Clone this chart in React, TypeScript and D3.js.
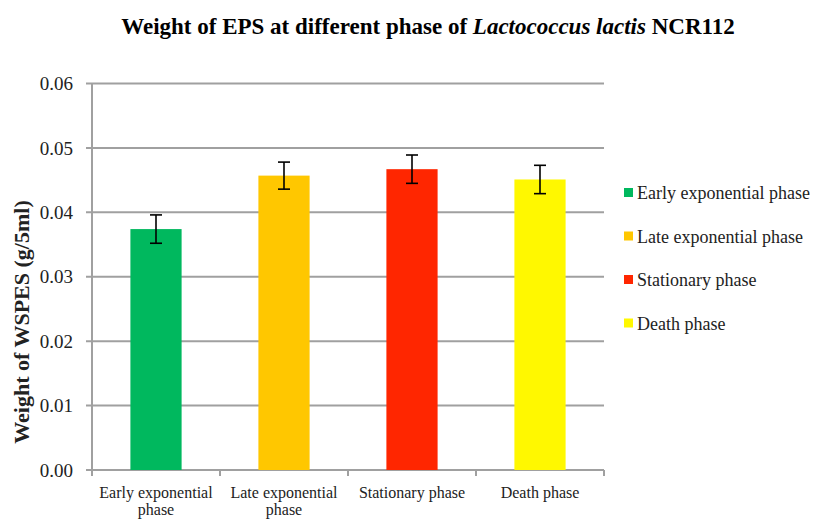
import React, { useEffect, useRef } from "react";
import * as d3 from "d3";

const categories = ["Early exponential phase", "Late exponential phase", "Stationary phase", "Death phase"];
const tickLines = [["Early exponential", "phase"], ["Late exponential", "phase"], ["Stationary phase"], ["Death phase"]];
const values = [0.0374, 0.0457, 0.0467, 0.0451];
const errors = [0.0022, 0.0021, 0.0022, 0.0022];
const colors = ["#00b85e", "#ffc700", "#ff2600", "#fff800"];
const yTicks = [0, 0.01, 0.02, 0.03, 0.04, 0.05, 0.06];

const FONT = "'Liberation Serif', 'Times New Roman', serif";

const App = () => {
  const ref = useRef<SVGSVGElement>(null);

  useEffect(() => {
    const svg = d3.select(ref.current);
    svg.selectAll("*").remove();

    const left = 92, right = 604, top = 83.5, bottom = 470;

    const x = d3.scaleBand<string>()
      .domain(categories)
      .range([left, right])
      .paddingInner(0.6)
      .paddingOuter(0.3);
    const y = d3.scaleLinear().domain([0, 0.06]).range([bottom, top]);

    // title
    const title = svg.append("text")
      .attr("x", 428)
      .attr("y", 34)
      .attr("text-anchor", "middle")
      .style("font-family", FONT)
      .style("font-size", "23px")
      .style("font-weight", "bold");
    title.append("tspan").text("Weight of EPS at different phase of ");
    title.append("tspan").style("font-style", "italic").text("Lactococcus lactis");
    title.append("tspan").text(" NCR112");

    // gridlines
    svg.append("g")
      .selectAll("line")
      .data(yTicks)
      .enter()
      .append("line")
      .attr("x1", left - 6)
      .attr("x2", right)
      .attr("y1", (d) => y(d))
      .attr("y2", (d) => y(d))
      .style("stroke", "#a0a0a0")
      .style("stroke-width", 2);

    // y axis line
    svg.append("line")
      .attr("x1", left).attr("x2", left)
      .attr("y1", top).attr("y2", bottom)
      .style("stroke", "#a0a0a0")
      .style("stroke-width", 2);

    // y tick labels
    svg.append("g")
      .selectAll("text")
      .data(yTicks)
      .enter()
      .append("text")
      .attr("x", left - 19)
      .attr("y", (d) => y(d))
      .attr("dy", "0.35em")
      .attr("text-anchor", "end")
      .style("font-family", FONT)
      .style("font-size", "19px")
      .style("fill", "#222")
      .text((d) => d3.format(".2f")(d));

    // x ticks at band edges
    const edges = categories.map((c) => x(c)! - x.step() * x.paddingInner() / 2);
    edges[0] = left;
    edges.push(right);
    svg.append("g")
      .selectAll("line")
      .data(edges)
      .enter()
      .append("line")
      .attr("x1", (d) => d).attr("x2", (d) => d)
      .attr("y1", bottom).attr("y2", bottom + 6)
      .style("stroke", "#a0a0a0")
      .style("stroke-width", 2);

    // bars
    svg.append("g")
      .selectAll("rect")
      .data(values)
      .enter()
      .append("rect")
      .attr("x", (d, i) => x(categories[i])!)
      .attr("width", x.bandwidth())
      .attr("y", (d) => y(d))
      .attr("height", (d) => bottom - y(d))
      .style("fill", (d, i) => colors[i]);

    // error bars
    const eb = svg.append("g")
      .selectAll("g")
      .data(values)
      .enter()
      .append("g")
      .style("stroke", "#000")
      .style("stroke-width", 1.6);
    eb.append("line")
      .attr("x1", (d, i) => x(categories[i])! + x.bandwidth() / 2)
      .attr("x2", (d, i) => x(categories[i])! + x.bandwidth() / 2)
      .attr("y1", (d, i) => y(d + errors[i]))
      .attr("y2", (d, i) => y(d - errors[i]));
    [1, -1].forEach((s) => {
      eb.append("line")
        .attr("x1", (d, i) => x(categories[i])! + x.bandwidth() / 2 - 6)
        .attr("x2", (d, i) => x(categories[i])! + x.bandwidth() / 2 + 6)
        .attr("y1", (d, i) => y(d + s * errors[i]))
        .attr("y2", (d, i) => y(d + s * errors[i]));
    });

    // x labels
    svg.append("g")
      .selectAll("text")
      .data(tickLines)
      .enter()
      .append("text")
      .attr("text-anchor", "middle")
      .style("font-family", FONT)
      .style("font-size", "16px")
      .style("fill", "#222")
      .each(function (lines, i) {
        const t = d3.select(this);
        lines.forEach((ln, k) => {
          t.append("tspan")
            .attr("x", x(categories[i])! + x.bandwidth() / 2)
            .attr("y", 498 + k * 17)
            .text(ln);
        });
      });

    // y axis title
    svg.append("text")
      .attr("transform", "translate(29,322) rotate(-90)")
      .attr("text-anchor", "middle")
      .style("font-family", FONT)
      .style("font-size", "22px")
      .style("font-weight", "bold")
      .style("fill", "#222")
      .text("Weight of WSPES (g/5ml)");

    // legend
    const lg = svg.append("g")
      .selectAll("g")
      .data(categories)
      .enter()
      .append("g")
      .attr("transform", (d, i) => `translate(624, ${193 + i * 43.5})`);
    lg.append("rect")
      .attr("x", 0).attr("y", -5)
      .attr("width", 9).attr("height", 9)
      .style("fill", (d, i) => colors[i]);
    lg.append("text")
      .attr("x", 13)
      .attr("y", 0)
      .attr("dy", "0.35em")
      .style("font-family", FONT)
      .style("font-size", "18px")
      .style("fill", "#222")
      .text((d) => d);
  }, []);

  return (
    <svg ref={ref} width={813} height={519} style={{ position: "absolute", left: 0, top: 0, background: "#fff" }} />
  );
};

export default App;
